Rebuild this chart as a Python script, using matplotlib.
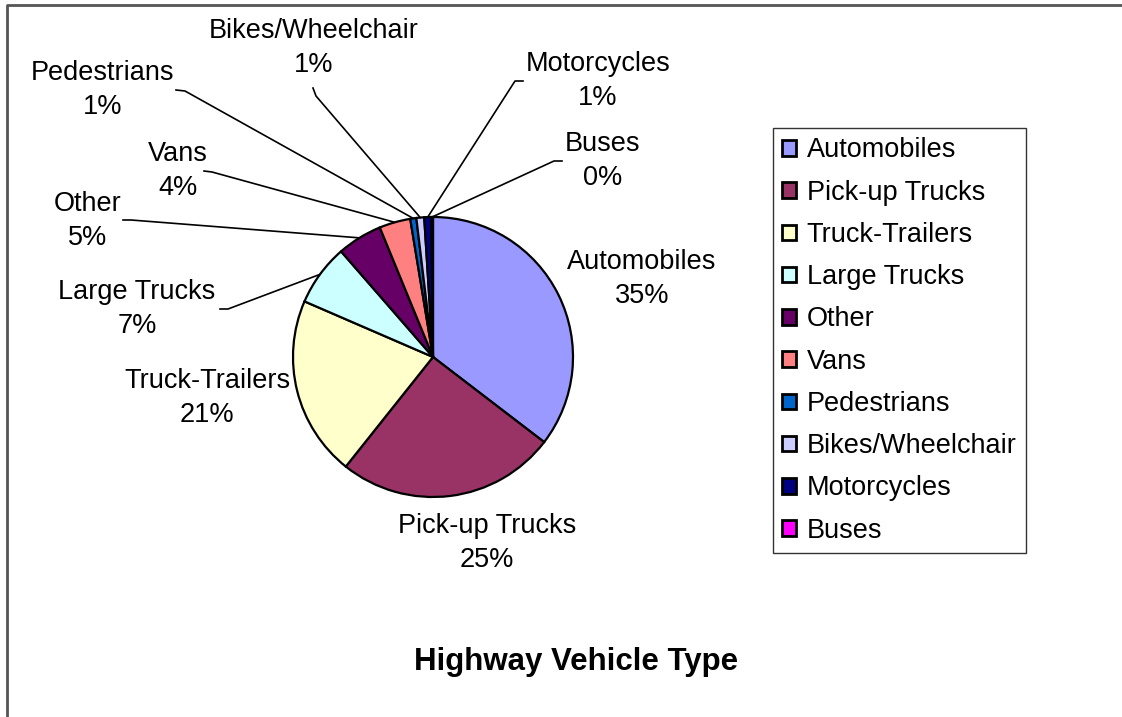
import matplotlib.pyplot as plt
import numpy as np

plt.rcParams['font.family'] = ['Liberation Sans', 'DejaVu Sans']

# datos del grafico (porcentajes)
tipos = ["Automobiles", "Pick-up Trucks", "Truck-Trailers", "Large Trucks", "Other",
         "Vans", "Pedestrians", "Bikes/Wheelchair", "Motorcycles", "Buses"]
valores = [35.4, 25.3, 20.8, 7.1, 5.2, 3.6, 0.7, 0.9, 0.8, 0.2]
colores = ["#9999FF", "#993366", "#FFFFCC", "#CCFFFF", "#660066",
           "#FF8080", "#0066CC", "#CCCCFF", "#000080", "#FF00FF"]

W, H = 1122, 717
fig = plt.figure(figsize=(W / 100, H / 100), dpi=100)
ax = fig.add_axes([0, 0, 1, 1])


def Y(y):
    # pasar de coordenadas de pixel (y hacia abajo) a coordenadas del eje
    return H - y


# pastel
cx, cy, r = 433, 357, 140
wedges, _ = ax.pie(valores, colors=colores, startangle=90, counterclock=False,
                   center=(cx, Y(cy)), radius=r, frame=True,
                   wedgeprops=dict(edgecolor="black", linewidth=1.6))
ax.set_xlim(0, W)
ax.set_ylim(0, H)
ax.set_aspect('equal')
ax.axis('off')

# posicion del centro del texto de cada etiqueta y del codo de su linea guia
pos_texto = {
    "Automobiles": (642, 279),
    "Pick-up Trucks": (487, 543),
    "Truck-Trailers": (207, 398),
    "Large Trucks": (137, 309),
    "Other": (88, 221),
    "Vans": (178, 171),
    "Pedestrians": (103, 90),
    "Bikes/Wheelchair": (314, 48),
    "Motorcycles": (598, 81),
    "Buses": (603, 161),
}
guias = {
    "Large Trucks": [(220, 309), (228, 309)],
    "Other": [(123, 220), (131, 220)],
    "Vans": [(204, 171), (212, 172)],
    "Pedestrians": [(176, 90), (185, 91)],
    "Bikes/Wheelchair": [(313, 88), (316, 96)],
    "Motorcycles": [(523, 81), (515, 81)],
    "Buses": [(562, 161), (554, 161)],
}

total = sum(valores)
for w, nombre, v in zip(wedges, tipos, valores):
    tx, ty = pos_texto[nombre]
    ax.text(tx, Y(ty), f"{nombre}\n{round(100 * v / total):d}%", ha="center", va="center",
            fontsize=19.5, linespacing=1.36)
    if nombre in guias:
        ang = np.deg2rad((w.theta1 + w.theta2) / 2)
        px = cx + r * np.cos(ang)
        py = Y(cy) + r * np.sin(ang)
        pts = guias[nombre]
        xs = [p[0] for p in pts] + [px]
        ys = [Y(p[1]) for p in pts] + [py]
        ax.plot(xs, ys, color="black", linewidth=1.2)

# leyenda
leg = ax.legend(wedges, tipos, loc="upper left", bbox_to_anchor=(773 / W, 1 - 128 / H),
                fontsize=19.5, frameon=True, fancybox=False, edgecolor="black",
                handlelength=0.5, handleheight=0.5, handletextpad=0.4,
                labelspacing=0.6, borderpad=0.35, borderaxespad=0)
leg.get_frame().set_linewidth(1.0)
for parche in leg.get_patches():
    parche.set_linewidth(2.0)

# titulo
ax.text(576, Y(662), "Highway Vehicle Type", ha="center", va="center",
        fontsize=22.5, fontweight="bold")

# marco del area del grafico (cortado a la derecha y abajo)
ax.plot([7, 7, W], [Y(H), Y(5), Y(5)], color="#555555", linewidth=2)

fig.savefig("out.png", dpi=100)
